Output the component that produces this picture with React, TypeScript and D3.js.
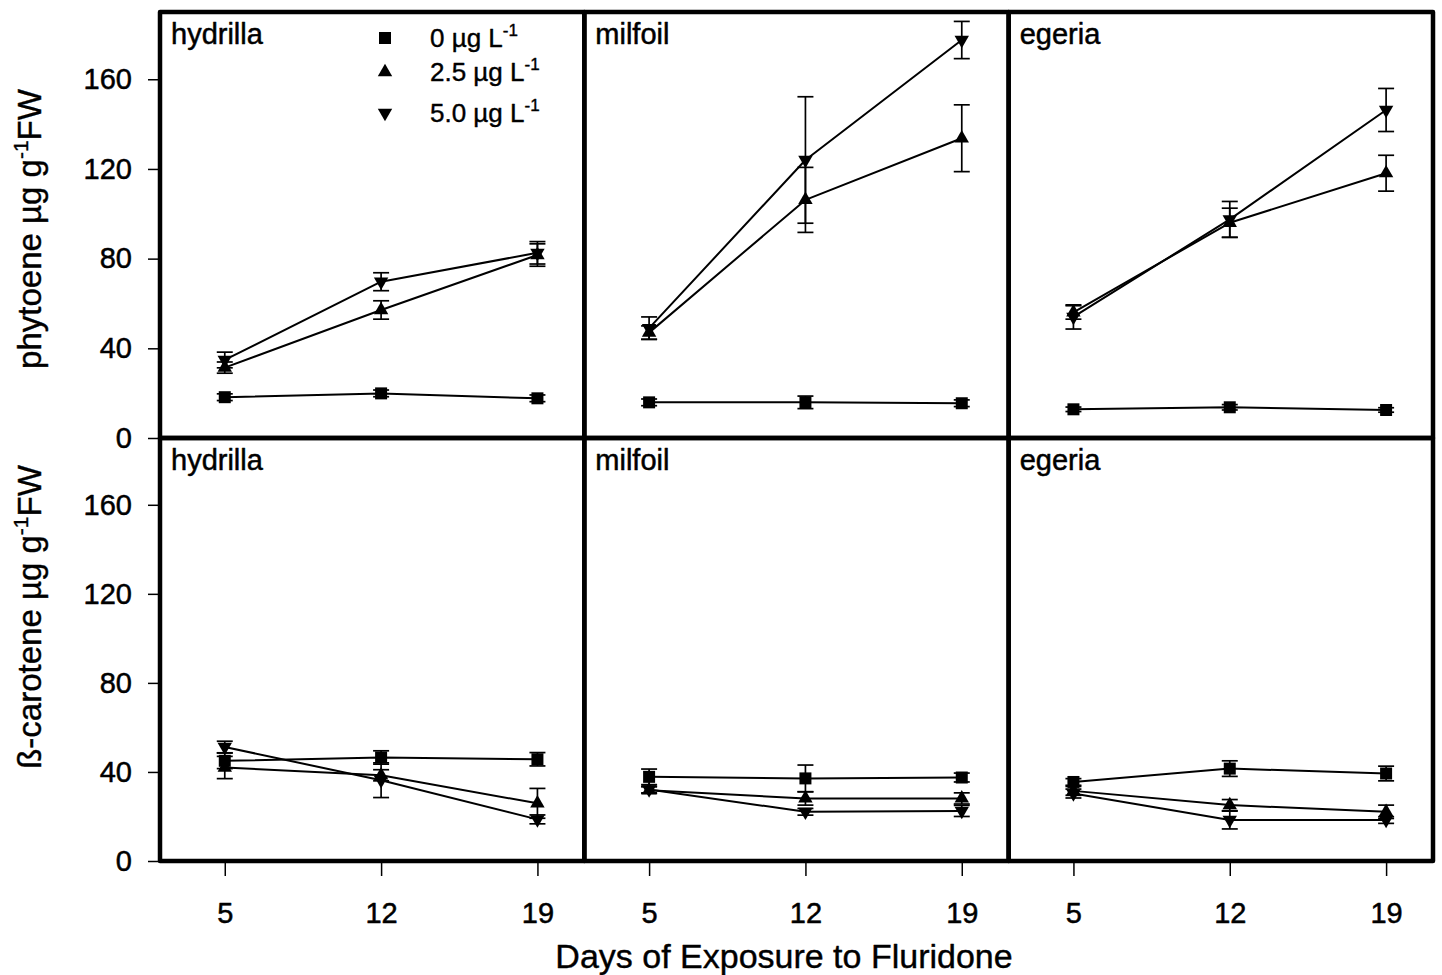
import React, { Component } from "react";
import * as d3 from "d3";

const days = [5, 12, 19];
const species = ["hydrilla", "milfoil", "egeria"];
const concentrations = ["0", "2.5", "5.0"];
const yTicks = [0, 40, 80, 120, 160];

// phytoene, [species][concentration][day]
const phytoeneMean = [
  [[18.2, 19.9, 17.7], [31.4, 57.1, 81.6], [34.8, 69.7, 82.6]],
  [[15.9, 15.9, 15.5], [47, 106.2, 133.7], [49, 124, 177.5]],
  [[12.8, 13.7, 12.5], [56, 96, 118.1], [54, 97.5, 146.3]],
];
const phytoeneErr = [
  [[1.5, 1.5, 1.5], [2.5, 4.1, 5], [3.5, 4, 5]],
  [[1.5, 2.8, 1.5], [3, 14.5, 14.9], [5, 28.2, 8.3]],
  [[1, 1.2, 1], [3, 6.5, 8], [5.4, 8, 9.6]],
];

// beta-carotene, [species][concentration][day]
const caroteneMean = [
  [[45, 46.5, 45.7], [42, 38.5, 25.9], [51.2, 36.3, 18.7]],
  [[37.8, 37.1, 37.5], [31.8, 28.1, 28.1], [32.1, 22.1, 22.5]],
  [[35.5, 41.5, 39.3], [31.5, 25.1, 22.1], [30.3, 18.4, 18.4]],
];
const caroteneErr = [
  [[3.5, 3, 3], [5, 2.5, 6.7], [2.6, 7.8, 2]],
  [[3.5, 6, 2], [1.5, 3, 2.5], [1.5, 1.5, 2.5]],
  [[1.5, 3.5, 3.3], [2, 2.5, 3], [2, 4, 1.5]],
];

const FONT = "'Liberation Sans', Arial, Helvetica, sans-serif";

class App extends Component {
  constructor(props) {
    super(props);
    this.canvasRef = React.createRef();
  }

  symbolFor = (i) => {
    if (i === 0) return { path: d3.symbol(d3.symbolSquare, 144)(), rot: 0 };
    return { path: d3.symbol(d3.symbolTriangle, 90)(), rot: i === 2 ? 180 : 0 };
  };

  drawChart = () => {
    const svg = d3.select(this.canvasRef.current);
    svg.selectAll("*").remove();

    let dims = {
      left: 160,
      right: 1433,
      rows: [
        { top: 12, bottom: 438 },
        { top: 438, bottom: 861 },
      ],
    };
    const panelWidth = (dims.right - dims.left) / species.length;
    const rowData = [
      { mean: phytoeneMean, err: phytoeneErr },
      { mean: caroteneMean, err: caroteneErr },
    ];

    // scanned text looks heavier than a clean render, thicken it a touch
    const root = svg.append("g")
      .attr("font-family", FONT)
      .attr("stroke-linejoin", "round");

    rowData.forEach((rd, r) => {
      const row = dims.rows[r];
      const yScale = d3.scaleLinear().domain([0, 190]).range([row.bottom, row.top]);

      species.forEach((sp, s) => {
        const x0 = dims.left + s * panelWidth;
        const xScale = d3.scaleLinear().domain([2.1, 21.1]).range([x0, x0 + panelWidth]);
        const g = root.append("g");

        /** connecting lines */
        const line = d3.line().x((d, i) => xScale(days[i])).y(d => yScale(d));
        concentrations.forEach((c, ci) => {
          g.append("path")
            .attr("d", line(rd.mean[s][ci]))
            .attr("fill", "none")
            .attr("stroke", "#000")
            .attr("stroke-width", 2);
        });

        /** error bars */
        concentrations.forEach((c, ci) => {
          rd.mean[s][ci].forEach((m, di) => {
            const e = rd.err[s][ci][di];
            const cx = xScale(days[di]);
            const bar = g.append("g").attr("stroke", "#000").attr("stroke-width", 1.7);
            bar.append("line").attr("x1", cx).attr("x2", cx).attr("y1", yScale(m - e)).attr("y2", yScale(m + e));
            [m - e, m + e].forEach(v => {
              bar.append("line").attr("x1", cx - 8).attr("x2", cx + 8).attr("y1", yScale(v)).attr("y2", yScale(v));
            });
          });
        });

        /** markers */
        concentrations.forEach((c, ci) => {
          const sym = this.symbolFor(ci);
          rd.mean[s][ci].forEach((m, di) => {
            g.append("path")
              .attr("d", sym.path)
              .attr("transform", `translate(${xScale(days[di])},${yScale(m)}) rotate(${sym.rot})`)
              .attr("fill", "#000");
          });
        });

        /** panel frame + label */
        g.append("rect")
          .attr("x", x0)
          .attr("y", row.top)
          .attr("width", panelWidth)
          .attr("height", row.bottom - row.top)
          .attr("fill", "none")
          .attr("stroke", "#000")
          .attr("stroke-width", 4.5);

        g.append("text")
          .attr("x", x0 + 11)
          .attr("y", row.top + 32)
          .attr("font-size", 29)
          .attr("stroke", "#000")
          .attr("stroke-width", 0.5)
          .text(sp);

        /** x-axis only under the bottom row */
        if (r === 1) {
          root.append("g")
            .attr("transform", `translate(0,${row.bottom})`)
            .call(d3.axisBottom(xScale).tickValues(days).tickSize(15).tickPadding(26).tickFormat(d3.format("d")))
            .call(a => a.select(".domain").remove())
            .call(a => a.selectAll(".tick line").attr("stroke-width", 1.5))
            .call(a => a.selectAll(".tick text")
              .attr("font-size", 29).attr("font-family", FONT)
              .attr("stroke", "#000").attr("stroke-width", 0.5));
        }
      });

      /** y-axis */
      root.append("g")
        .attr("transform", `translate(${dims.left},0)`)
        .call(d3.axisLeft(yScale).tickValues(yTicks).tickSize(12).tickPadding(16))
        .call(a => a.select(".domain").remove())
        .call(a => a.selectAll(".tick line").attr("stroke-width", 1.5))
        .call(a => a.selectAll(".tick text")
          .attr("font-size", 29).attr("font-family", FONT)
          .attr("stroke", "#000").attr("stroke-width", 0.5));
    });

    /** legend */
    const legendRows = [38, 72, 113];
    const legend = root.append("g");
    concentrations.forEach((c, ci) => {
      const sym = this.symbolFor(ci);
      legend.append("path")
        .attr("d", sym.path)
        .attr("transform", `translate(385,${legendRows[ci]}) rotate(${sym.rot})`)
        .attr("fill", "#000");
      const t = legend.append("text")
        .attr("x", 430)
        .attr("y", legendRows[ci] + 9)
        .attr("font-size", 26)
        .attr("stroke", "#000")
        .attr("stroke-width", 0.4);
      t.append("tspan").text(`${c} µg L`);
      t.append("tspan").attr("dy", -11).attr("font-size", 17).text("-1");
    });

    /** axis titles */
    const yTitles = [
      { text: "phytoene µg g", y: 229 },
      { text: "ß-carotene µg g", y: 617 },
    ];
    yTitles.forEach(yt => {
      const t = root.append("text")
        .attr("transform", `translate(41,${yt.y}) rotate(-90)`)
        .attr("text-anchor", "middle")
        .attr("font-size", 33)
        .attr("stroke", "#000")
        .attr("stroke-width", 0.4);
      t.append("tspan").text(yt.text);
      t.append("tspan").attr("dy", -13).attr("font-size", 21).text("-1");
      t.append("tspan").attr("dy", 13).text("FW");
    });

    root.append("text")
      .attr("x", 784)
      .attr("y", 968)
      .attr("text-anchor", "middle")
      .attr("font-size", 34)
      .attr("stroke", "#000")
      .attr("stroke-width", 0.4)
      .text("Days of Exposure to Fluridone");
  };

  componentDidMount() {
    this.drawChart();
  }

  componentDidUpdate() {
    this.drawChart();
  }

  render() {
    return (
      <svg
        ref={this.canvasRef}
        width={1442}
        height={975}
        style={{ position: "absolute", left: 0, top: 0, background: "#fff" }}
      />
    );
  }
}

export default App;
